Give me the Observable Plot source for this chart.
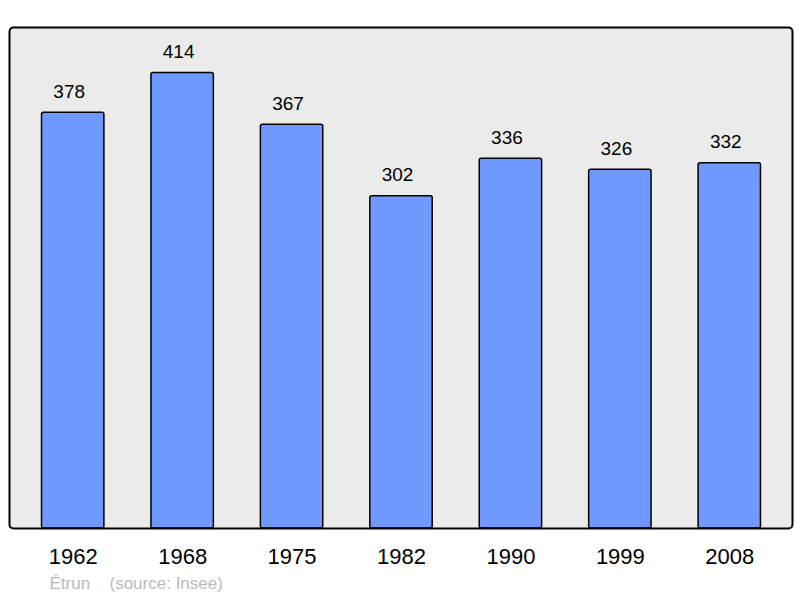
<!DOCTYPE html>
<html><head><meta charset="utf-8">
<script src="https://cdn.jsdelivr.net/npm/d3@7"></script>
<script src="https://cdn.jsdelivr.net/npm/@observablehq/plot@0.6"></script>
<style>body{margin:0;background:#fff;font-family:"Liberation Sans",Arial,sans-serif}</style>
</head><body><div id="chart"></div>
<script>
const years = ["1962","1968","1975","1982","1990","1999","2008"];
const population = [378, 414, 367, 302, 336, 326, 332];
const commune = "Étrun";
const source = "(source: Insee)";

const data = years.map((y, i) => ({year: y, value: population[i]}));

const chart = Plot.plot({
  width: 800, height: 598,
  marginLeft: 9, marginRight: 8, marginTop: 27, marginBottom: 70,
  style: {fontFamily: '"Liberation Sans", Arial, sans-serif', background: "white"},
  x: {domain: years, range: [18, 784], paddingInner: 0.43, paddingOuter: 0.215, round: false, label: null},
  y: {domain: [0, 455.4], axis: null},
  marks: [
    Plot.frame({fill: "#ebebeb", stroke: "none"}),
    Plot.barY(data, {x: "year", y: "value", fill: "#7099ff", stroke: "black", strokeWidth: 1.5, rx: 2}),
    Plot.text(data, {x: "year", y: "value", text: d => String(d.value), dy: -21, dx: -4, fontSize: 19, fill: "black"}),
    Plot.frame({stroke: "black", strokeWidth: 2, rx: 4}),
    Plot.axisX({tickSize: 0, tickPadding: 20, fontSize: 22, color: "black", label: null}),
    Plot.text([commune], {frameAnchor: "bottom-left", dx: 40, dy: 60, text: d => d, textAnchor: "start", fontSize: 17, fill: "#bbbbbb"}),
    Plot.text([source], {frameAnchor: "bottom-left", dx: 100, dy: 60, text: d => d, textAnchor: "start", fontSize: 17, fill: "#bbbbbb"})
  ]
});
document.getElementById("chart").appendChild(chart);
</script></body></html>
